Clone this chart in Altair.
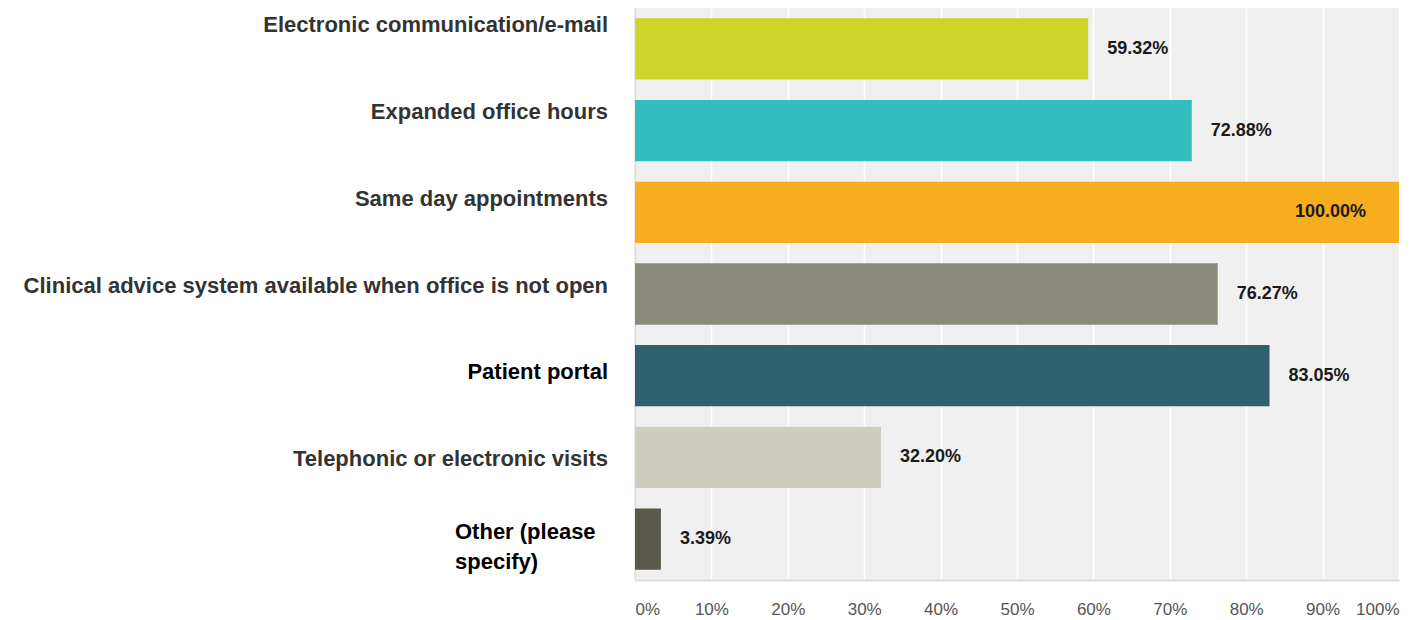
import altair as alt
import pandas as pd

categories = [
    "Electronic communication/e-mail",
    "Expanded office hours",
    "Same day appointments",
    "Clinical advice system available when office is not open",
    "Patient portal",
    "Telephonic or electronic visits",
    "Other (please specify)",
]
labels = [
    "Electronic communication/e-mail",
    "Expanded office hours",
    "Same day appointments",
    "Clinical advice system available when office is not open",
    "Patient portal",
    "Telephonic or electronic visits",
    "Other (please\nspecify)",
]
values = [59.32, 72.88, 100.00, 76.27, 83.05, 32.20, 3.39]
palette = ["#cfd428", "#33bdbf", "#f6ae1e", "#8a8a7a", "#2f606d", "#cfcdbf", "#5a584a"]
ticks = [0, 10, 20, 30, 40, 50, 60, 70, 80, 90, 100]

df = pd.DataFrame({"category": categories, "label": labels, "value": values})

FONT = "Liberation Sans"

base = alt.Chart(df).transform_calculate(
    text="format(datum.value, '.2f') + '%'"
)

band = alt.Scale(domain=categories, paddingInner=0.25, paddingOuter=0.125)

bars = base.mark_bar().encode(
    x=alt.X(
        "value:Q",
        scale=alt.Scale(domain=[0, 100]),
        axis=alt.Axis(
            values=ticks,
            labelExpr="datum.value + '%'",
            grid=True,
            gridColor="#ffffff",
            gridWidth=1.5,
            ticks=False,
            domainColor="#dddddd",
            domainWidth=2,
            labelFlush=True,
            labelFontSize=17,
            labelColor="#555555",
            labelFont=FONT,
            labelPadding=21,
            title=None,
        ),
    ),
    y=alt.Y(
        "category:N",
        sort=categories,
        scale=band,
        axis=alt.Axis(labels=False, ticks=False, grid=False, title=None,
                      domainColor="#dddddd", domainWidth=2),
    ),
    color=alt.Color("category:N", scale=alt.Scale(domain=categories, range=palette), legend=None),
)

ybare = alt.Y("category:N", sort=categories, scale=band, axis=None)

values_out = base.transform_filter("datum.value < 95").mark_text(
    align="left", baseline="middle", dx=19, fontSize=18, fontWeight="bold",
    font=FONT, color="#1a1a1a",
).encode(x="value:Q", y=ybare, text="text:N")

values_in = base.transform_filter("datum.value >= 95").mark_text(
    align="right", baseline="middle", dx=-33, fontSize=18, fontWeight="bold",
    font=FONT, color="#1a1a1a",
).encode(x="value:Q", y=ybare, text="text:N")

ylab = alt.Y("category:N", sort=categories,
             scale=alt.Scale(type="point", domain=categories, range=[17, 538], padding=0),
             axis=None)

lab_a = base.transform_filter("indexof(datum.label, '\\n') < 0").mark_text(
    align="right", baseline="middle", fontSize=22, fontWeight="bold", font=FONT,
).encode(
    x=alt.value(-27),
    y=ylab,
    text="label:N",
    color=alt.condition("datum.category == 'Patient portal'", alt.value("#000000"), alt.value("#333333")),
)

lab_b = base.transform_filter("indexof(datum.label, '\\n') >= 0").mark_text(
    align="left", baseline="middle", fontSize=22, fontWeight="bold", font=FONT,
    lineBreak="\n", lineHeight=30, dy=-14, color="#000000",
).encode(x=alt.value(-180), y=ylab, text="label:N")

chart = alt.layer(bars, values_out, values_in, lab_a, lab_b).resolve_scale(
    y="independent"
).properties(
    width=764,
    height=572,
    padding={"left": 627, "top": 0, "right": 7, "bottom": 40},
    autosize=alt.AutoSizeParams(type="none"),
).configure_view(stroke=None, fill="#f0f0f0")

chart.save("out.html", embed_options={"renderer": "svg", "actions": False})
